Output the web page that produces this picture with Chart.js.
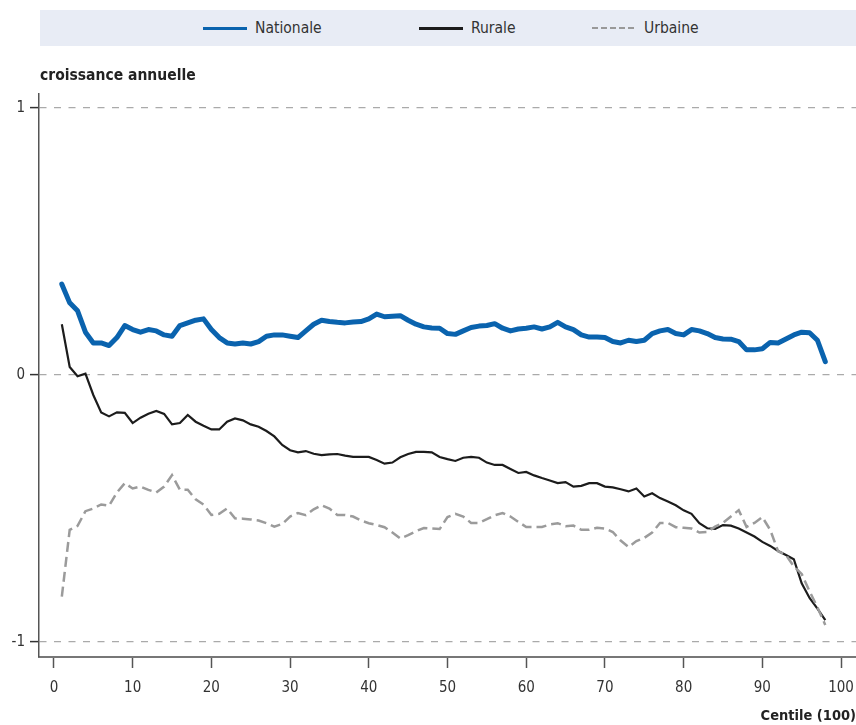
<!DOCTYPE html>
<html>
<head>
<meta charset="utf-8">
<script src="https://cdn.jsdelivr.net/npm/chart.js@4.4.1/dist/chart.umd.min.js"></script>
<style>
  body { margin: 0; background: #fff; }
  .wrap { position: relative; width: 856px; height: 725px; font-family: 'Liberation Sans Narrow', 'DejaVu Sans Condensed', sans-serif; }
  #myChart { position: absolute; left: 0; top: 0; }
  .legende { position: absolute; left: 40px; top: 10px; width: 816px; height: 36px; background: #e8ecf5; }
  .item { position: absolute; top: 0; height: 36px; display: flex; align-items: center; font-size: 15.5px; color: #333; }
  .trait { width: 44px; margin-right: 8px; }
  .titre-y { position: absolute; left: 40px; top: 66px; font-weight: bold; font-size: 15.5px; color: #222; }
</style>
</head>
<body>
<div class="wrap">
  <canvas id="myChart" width="856" height="725"></canvas>
  <div class="legende">
    <div class="item" style="left:163px"><span class="trait" style="height:3px;background:#0a63ae"></span>Nationale</div>
    <div class="item" style="left:379px"><span class="trait" style="height:3px;background:#1c1c1c"></span>Rurale</div>
    <div class="item" style="left:552px"><span class="trait" style="height:2px;background:repeating-linear-gradient(90deg,#999 0 6px,transparent 6px 9px)"></span>Urbaine</div>
  </div>
  <div class="titre-y">croissance annuelle</div>
</div>
<script>
// Données (centiles 1 à 98)
const centiles = [1, 2, 3, 4, 5, 6, 7, 8, 9, 10, 11, 12, 13, 14, 15, 16, 17, 18, 19, 20,
  21, 22, 23, 24, 25, 26, 27, 28, 29, 30, 31, 32, 33, 34, 35, 36, 37, 38, 39, 40,
  41, 42, 43, 44, 45, 46, 47, 48, 49, 50, 51, 52, 53, 54, 55, 56, 57, 58, 59, 60,
  61, 62, 63, 64, 65, 66, 67, 68, 69, 70, 71, 72, 73, 74, 75, 76, 77, 78, 79, 80,
  81, 82, 83, 84, 85, 86, 87, 88, 89, 90, 91, 92, 93, 94, 95, 96, 97, 98];

const nationale = [0.34, 0.27, 0.24, 0.16, 0.12, 0.12, 0.11, 0.14, 0.185, 0.17,
  0.16, 0.17, 0.165, 0.15, 0.145, 0.185, 0.195, 0.205, 0.21, 0.17,
  0.14, 0.12, 0.116, 0.12, 0.116, 0.125, 0.145, 0.15, 0.15, 0.145,
  0.14, 0.165, 0.19, 0.205, 0.2, 0.197, 0.195, 0.198, 0.2, 0.21,
  0.228, 0.218, 0.22, 0.222, 0.205, 0.19, 0.18, 0.176, 0.175, 0.155,
  0.152, 0.165, 0.178, 0.183, 0.185, 0.192, 0.175, 0.165, 0.172, 0.175,
  0.18, 0.172, 0.18, 0.197, 0.18, 0.17, 0.15, 0.142, 0.142, 0.14,
  0.125, 0.12, 0.13, 0.125, 0.13, 0.155, 0.165, 0.17, 0.155, 0.15,
  0.17, 0.165, 0.155, 0.14, 0.135, 0.134, 0.125, 0.094, 0.094, 0.098,
  0.122, 0.12, 0.135, 0.15, 0.16, 0.158, 0.13, 0.05];

const rurale = [0.19, 0.03, -0.005, 0.005, -0.075, -0.14, -0.155, -0.14, -0.142, -0.18,
  -0.16, -0.145, -0.135, -0.146, -0.185, -0.18, -0.15, -0.175, -0.19, -0.204,
  -0.204, -0.175, -0.163, -0.17, -0.185, -0.194, -0.21, -0.23, -0.262, -0.282,
  -0.29, -0.285, -0.295, -0.3, -0.297, -0.296, -0.302, -0.307, -0.307, -0.307,
  -0.318, -0.332, -0.328, -0.308, -0.296, -0.288, -0.288, -0.29, -0.307, -0.315,
  -0.322, -0.31, -0.307, -0.31, -0.328, -0.337, -0.337, -0.352, -0.367, -0.363,
  -0.376, -0.386, -0.395, -0.405, -0.401, -0.418, -0.415, -0.405, -0.405, -0.418,
  -0.421, -0.428, -0.436, -0.425, -0.455, -0.443, -0.461, -0.474, -0.488, -0.507,
  -0.52, -0.555, -0.574, -0.576, -0.562, -0.564, -0.575, -0.59, -0.605, -0.625,
  -0.64, -0.659, -0.674, -0.69, -0.78, -0.835, -0.875, -0.918];

const urbaine = [-0.83, -0.58, -0.565, -0.51, -0.5, -0.485, -0.49, -0.44, -0.405, -0.425,
  -0.418, -0.43, -0.44, -0.418, -0.375, -0.43, -0.43, -0.466, -0.485, -0.524,
  -0.52, -0.5, -0.537, -0.538, -0.541, -0.545, -0.555, -0.568, -0.558, -0.53,
  -0.517, -0.525, -0.503, -0.488, -0.5, -0.524, -0.524, -0.53, -0.545, -0.555,
  -0.562, -0.57, -0.59, -0.612, -0.6, -0.585, -0.573, -0.575, -0.577, -0.532,
  -0.52, -0.53, -0.554, -0.554, -0.54, -0.525, -0.517, -0.53, -0.55, -0.569,
  -0.569, -0.569, -0.56, -0.555, -0.566, -0.564, -0.58, -0.58, -0.572, -0.575,
  -0.588, -0.62, -0.644, -0.622, -0.61, -0.59, -0.554, -0.554, -0.57, -0.572,
  -0.575, -0.59, -0.588, -0.568, -0.554, -0.53, -0.506, -0.569, -0.554, -0.532,
  -0.58, -0.66, -0.674, -0.717, -0.745, -0.81, -0.87, -0.936];

const xTicks = [0, 10, 20, 30, 40, 50, 60, 70, 80, 90, 100];
const yTicks = [-1, 0, 1];

const police = "'Liberation Sans Narrow', 'DejaVu Sans Condensed', sans-serif";

function points(valeurs) {
  return centiles.map((c, i) => ({ x: c, y: valeurs[i] }));
}

const Grafico = document.getElementById('myChart');
new Chart(Grafico, {
  type: 'line',
  data: {
    datasets: [
      {
        label: 'Urbaine',
        data: points(urbaine),
        borderColor: '#9b9b9b',
        borderWidth: 2.5,
        borderDash: [10, 5]
      },
      {
        label: 'Rurale',
        data: points(rurale),
        borderColor: '#1c1c1c',
        borderWidth: 2.2
      },
      {
        label: 'Nationale',
        data: points(nationale),
        borderColor: '#0a63ae',
        borderWidth: 5,
        borderCapStyle: 'round',
        borderJoinStyle: 'round'
      }
    ]
  },
  options: {
    responsive: false,
    animation: false,
    layout: { padding: { top: 94, right: 0, bottom: 0, left: 0 } },
    elements: { point: { radius: 0 }, line: { tension: 0 } },
    plugins: { legend: { display: false }, tooltip: { enabled: false } },
    scales: {
      x: {
        type: 'linear',
        min: -1.9,
        max: 101.9,
        afterBuildTicks: s => { s.ticks = xTicks.map(v => ({ value: v })); },
        afterFit: s => { s.height = 68; s.paddingLeft = 0; s.paddingRight = 0; },
        grid: { drawOnChartArea: false, drawTicks: true, tickLength: 11, tickColor: '#555', tickWidth: 1.5 },
        border: { color: '#777', width: 2 },
        ticks: { color: '#333', padding: 11, maxRotation: 0, font: { size: 15, family: police } },
        title: {
          display: true,
          text: 'Centile (100)',
          align: 'end',
          color: '#222',
          padding: { top: 4, bottom: 0 },
          font: { size: 14.5, weight: 'bold', family: police }
        }
      },
      y: {
        min: -1.056,
        max: 1.052,
        afterBuildTicks: s => { s.ticks = yTicks.map(v => ({ value: v })); },
        afterFit: s => { s.width = 39; },
        grid: { color: '#aaa', lineWidth: 1.2, tickLength: 9, tickColor: '#333', tickWidth: 1.5, tickBorderDash: [] },
        border: { color: '#555', width: 1.5, dash: [7, 7.5] },
        ticks: { color: '#333', padding: 5, font: { size: 15, family: police } }
      }
    }
  }
});
</script>
</body>
</html>
